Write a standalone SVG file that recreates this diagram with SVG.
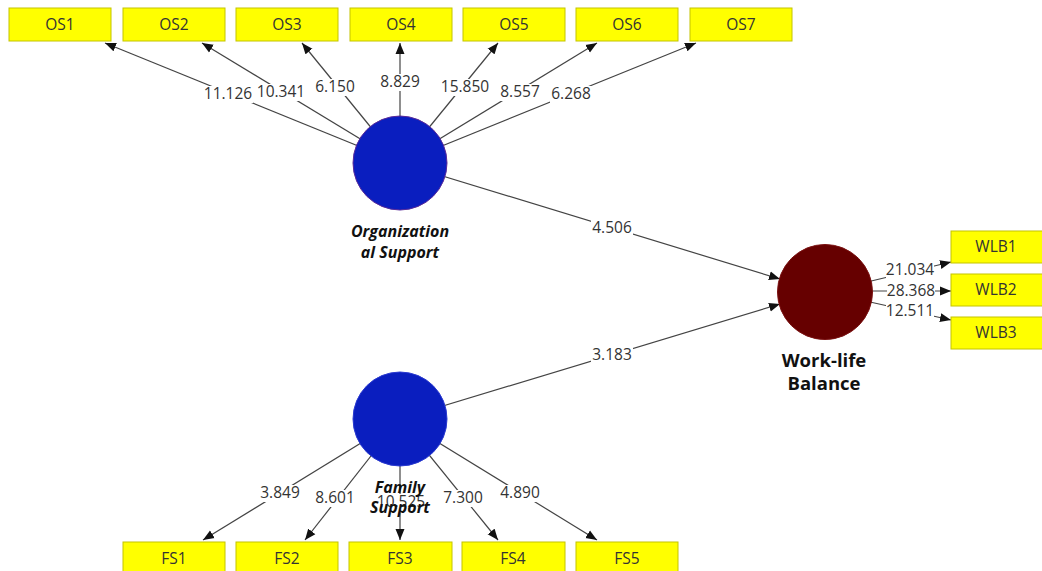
<svg xmlns="http://www.w3.org/2000/svg" width="1042" height="571" viewBox="0 0 1042 571">
<defs>
<marker id="arr" markerUnits="userSpaceOnUse" markerWidth="12" markerHeight="10" refX="11" refY="5" orient="auto">
<path d="M0,0.5 L11,5 L0,9.5 Z" fill="#111"/>
</marker>
<style>
.ln{stroke:#444;stroke-width:1.2;fill:none;marker-end:url(#arr)}
.lbl{font-family:"Open Sans","Noto Sans",sans-serif;font-size:15.5px;fill:#333;text-anchor:middle}
.bg{fill:#fff}
.box{fill:#ffff00;stroke:#c4c400;stroke-width:1}
.bt{font-family:"Open Sans","Noto Sans",sans-serif;font-size:15.5px;fill:#333;text-anchor:middle}
.nl{font-family:"Open Sans","Noto Sans",sans-serif;font-weight:bold;fill:#111;text-anchor:middle}
</style>
</defs>
<rect width="1042" height="571" fill="#fff"/>
<g id="connectors">
<line class="ln" x1="400" y1="163" x2="105" y2="43"/>
<line class="ln" x1="400" y1="163" x2="202" y2="43"/>
<line class="ln" x1="400" y1="163" x2="302" y2="43"/>
<line class="ln" x1="400" y1="163" x2="400" y2="43"/>
<line class="ln" x1="400" y1="163" x2="498" y2="43"/>
<line class="ln" x1="400" y1="163" x2="597" y2="43"/>
<line class="ln" x1="400" y1="163" x2="696" y2="43"/>
<line class="ln" x1="400" y1="163" x2="780" y2="279"/>
<line class="ln" x1="400" y1="419" x2="780" y2="304"/>
<line class="ln" x1="825" y1="292" x2="951" y2="262"/>
<line class="ln" x1="825" y1="291" x2="951" y2="291"/>
<line class="ln" x1="825" y1="292" x2="951" y2="320"/>
<line class="ln" x1="400" y1="419" x2="203" y2="540"/>
<line class="ln" x1="400" y1="419" x2="305" y2="540"/>
<line class="ln" x1="400" y1="419" x2="400" y2="540"/>
<line class="ln" x1="400" y1="419" x2="498" y2="540"/>
<line class="ln" x1="400" y1="419" x2="597" y2="540"/>
<rect class="bg" x="203" y="86" width="50" height="17"/><text class="lbl" x="228" y="99">11.126</text>
<rect class="bg" x="256" y="84" width="50" height="17"/><text class="lbl" x="281" y="97">10.341</text>
<rect class="bg" x="314" y="79" width="42" height="17"/><text class="lbl" x="335" y="92">6.150</text>
<rect class="bg" x="379" y="74" width="42" height="17"/><text class="lbl" x="400" y="87">8.829</text>
<rect class="bg" x="440" y="79" width="50" height="17"/><text class="lbl" x="465" y="92">15.850</text>
<rect class="bg" x="499" y="84" width="42" height="17"/><text class="lbl" x="520" y="97">8.557</text>
<rect class="bg" x="550" y="86" width="42" height="17"/><text class="lbl" x="571" y="99">6.268</text>
<rect class="bg" x="591" y="220" width="42" height="17"/><text class="lbl" x="612" y="233">4.506</text>
<rect class="bg" x="591" y="347" width="42" height="17"/><text class="lbl" x="612" y="360">3.183</text>
<rect class="bg" x="886" y="262" width="48" height="17"/><text class="lbl" x="910" y="275">21.034</text>
<rect class="bg" x="887" y="283" width="48" height="17"/><text class="lbl" x="911" y="296">28.368</text>
<rect class="bg" x="886" y="303" width="48" height="17"/><text class="lbl" x="910" y="316">12.511</text>
<rect class="bg" x="259" y="485" width="42" height="17"/><text class="lbl" x="280" y="498">3.849</text>
<rect class="bg" x="314" y="490" width="42" height="17"/><text class="lbl" x="335" y="503">8.601</text>
<rect class="bg" x="376" y="494" width="50" height="17"/><text class="lbl" x="401" y="507">10.525</text>
<rect class="bg" x="442" y="490" width="42" height="17"/><text class="lbl" x="463" y="503">7.300</text>
<rect class="bg" x="499" y="485" width="42" height="17"/><text class="lbl" x="520" y="498">4.890</text>
</g>
<g id="OS1"><rect class="box" x="9" y="8" width="102" height="33"/><text class="bt" x="60" y="30">OS1</text></g>
<g id="OS2"><rect class="box" x="123" y="8" width="102" height="33"/><text class="bt" x="174" y="30">OS2</text></g>
<g id="OS3"><rect class="box" x="236" y="8" width="102" height="33"/><text class="bt" x="287" y="30">OS3</text></g>
<g id="OS4"><rect class="box" x="350" y="8" width="102" height="33"/><text class="bt" x="401" y="30">OS4</text></g>
<g id="OS5"><rect class="box" x="463" y="8" width="102" height="33"/><text class="bt" x="514" y="30">OS5</text></g>
<g id="OS6"><rect class="box" x="576" y="8" width="102" height="33"/><text class="bt" x="627" y="30">OS6</text></g>
<g id="OS7"><rect class="box" x="690" y="8" width="102" height="33"/><text class="bt" x="741" y="30">OS7</text></g>
<g id="WLB1"><rect class="box" x="951" y="231" width="92" height="32"/><text class="bt" x="996" y="252">WLB1</text></g>
<g id="WLB2"><rect class="box" x="951" y="274" width="92" height="32"/><text class="bt" x="996" y="295">WLB2</text></g>
<g id="WLB3"><rect class="box" x="951" y="317" width="92" height="32"/><text class="bt" x="996" y="338">WLB3</text></g>
<g id="FS1"><rect class="box" x="123" y="542" width="102" height="33"/><text class="bt" x="174" y="564">FS1</text></g>
<g id="FS2"><rect class="box" x="236" y="542" width="102" height="33"/><text class="bt" x="287" y="564">FS2</text></g>
<g id="FS3"><rect class="box" x="349" y="542" width="103" height="33"/><text class="bt" x="400" y="564">FS3</text></g>
<g id="FS4"><rect class="box" x="462" y="542" width="103" height="33"/><text class="bt" x="513" y="564">FS4</text></g>
<g id="FS5"><rect class="box" x="576" y="542" width="102" height="33"/><text class="bt" x="627" y="564">FS5</text></g>
<g id="OrganizationalSupport">
<circle cx="400" cy="163" r="47" fill="#0a1ebf" stroke="#5a2a9a" stroke-width="1"/>
<text class="nl" font-style="italic" font-size="16" x="400" y="237">Organization</text>
<text class="nl" font-style="italic" font-size="16" x="400" y="258">al Support</text>
</g>
<g id="FamilySupport">
<circle cx="400" cy="419" r="47" fill="#0a1ebf" stroke="#2a3ad0" stroke-width="1"/>
<text class="nl" font-style="italic" font-size="16" x="400" y="493">Family</text>
<text class="nl" font-style="italic" font-size="16" x="400" y="513">Support</text>
</g>
<g id="WorkLifeBalance">
<circle cx="825" cy="292" r="47.5" fill="#660000" stroke="#7a1010" stroke-width="1"/>
<text class="nl" font-size="18.5" x="824" y="367">Work-life</text>
<text class="nl" font-size="18.5" x="824" y="390">Balance</text>
</g>
</svg>
